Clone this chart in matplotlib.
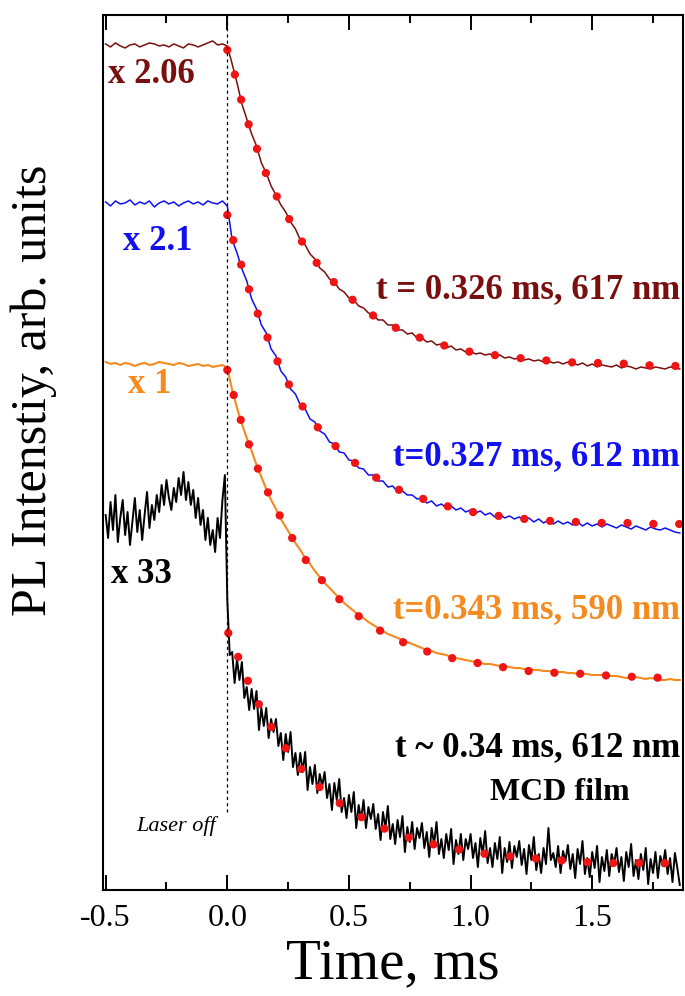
import numpy as np
import matplotlib
matplotlib.use("Agg")
import matplotlib.pyplot as plt
from matplotlib.ticker import MultipleLocator

plt.rcParams['font.family'] = ['Liberation Serif', 'DejaVu Serif']
plt.rcParams['axes.unicode_minus'] = False

# ===============================
# data, intensity in arb. units
# ===============================

STEP = 0.02      # ms, sampling of the three upper traces
STEP_BLACK = 0.01
T0 = -0.50

brown_raw = [
    846, 843, 847, 844, 842, 845, 846, 843, 845, 847, 846, 844, 845, 843, 846, 844, 842, 846, 845, 843,
    845, 847, 849, 845, 846,
    844, 826, 807, 786, 771, 756, 744, 727, 717, 704, 695, 685, 678, 668, 661, 650, 645, 636, 631, 622,
    618, 611, 608, 601, 598, 592, 590, 584, 582, 577, 575, 570, 570, 565, 565, 560, 560, 556, 557, 552,
    552, 548, 549, 545, 546, 542, 544, 540, 541, 538, 539, 536, 537, 535, 536, 533, 535, 532, 533, 531,
    532, 530, 531, 529, 530, 528, 529, 527, 528, 526, 528, 527, 525, 527, 524, 526, 523, 525, 524, 523,
    525, 522, 524, 523, 521, 523, 522, 521, 523, 522, 521, 523, 522, 521,
]

blue_raw = [
    688, 684, 689, 686, 687, 690, 685, 688, 686, 689, 683, 687, 689, 686, 688, 684, 687, 689, 686, 688,
    685, 689, 687, 686, 689,
    684, 650, 637, 621, 609, 591, 581, 565, 557, 541, 534, 519, 513, 501, 496, 485, 481, 471, 468, 459,
    456, 448, 446, 438, 437, 430, 429, 422, 421, 415, 415, 409, 409, 403, 404, 398, 399, 395, 395, 391,
    392, 387, 389, 384, 386, 382, 384, 380, 382, 378, 380, 377, 379, 375, 377, 373, 376, 372, 374, 371,
    373, 369, 372, 368, 371, 367, 370, 366, 369, 366, 368, 365, 368, 364, 367, 364, 366, 363, 366, 364,
    362, 365, 363, 361, 364, 362, 360, 363, 361, 360, 362, 360, 358, 357,
]

orange_raw = [
    528, 526, 527, 525, 527, 526, 524, 526, 527, 525, 526, 528, 527, 526, 525, 527, 526, 524, 525, 526,
    524, 525, 523, 524, 525,
    522, 500, 482, 466, 452, 439, 425, 413, 401, 390, 381, 371, 363, 355, 347, 340, 332, 326, 319, 313,
    307, 302, 297, 292, 287, 283, 279, 275, 272, 268, 265, 262, 259, 256, 254, 252, 250, 248, 246, 244,
    242, 240, 239, 237, 236, 235, 233, 232, 231, 230, 229, 228, 227, 226, 226, 225, 224, 224, 223, 222,
    222, 221, 221, 220, 220, 219, 219, 218, 218, 218, 217, 217, 216, 216, 216, 215, 215, 215, 214, 214,
    214, 213, 212, 212, 213, 212, 211, 212, 211, 210, 210, 211, 210, 210,
]

black_raw = [
    375, 352, 388, 360, 395, 348, 372, 390, 355, 378,
    345, 368, 392, 358, 380, 350, 375, 398, 362, 385,
    370, 395, 378, 405, 385, 410, 392, 380, 402, 388,
    412, 395, 418, 390, 408, 385, 400, 372, 392, 365,
    380, 350, 372, 345, 360, 338, 372, 352, 390, 415,
    290, 235, 238, 207, 231, 210, 228, 192, 203, 180,
    201, 181, 199, 160, 182, 164, 182, 152, 171, 158,
    171, 144, 157, 130, 156, 138, 158, 123, 137, 115,
    137, 118, 138, 100, 123, 106, 125, 97, 116, 104,
    118, 92, 106, 80, 107, 90, 111, 78, 92, 72,
    95, 78, 98, 62, 85, 70, 90, 62, 83, 71,
    86, 61, 76, 50, 78, 62, 84, 51, 66, 46,
    70, 53, 74, 38, 63, 48, 68, 41, 62, 52,
    67, 42, 58, 33, 62, 46, 68, 36, 51, 32,
    56, 40, 61, 26, 50, 36, 56, 30, 51, 41,
    56, 32, 47, 23, 52, 36, 59, 27, 42, 23,
    47, 31, 53, 17, 42, 28, 48, 22, 44, 33,
    49, 25, 41, 16, 45, 30, 53, 20, 36, 17,
    42, 26, 62, 30, 37, 23, 44, 17, 39, 29,
    45, 21, 36, 12, 41, 26, 49, 16, 32, 13,
    38, 22, 44, 8, 33, 19, 40, 14, 36, 26,
    42, 18, 33, 9, 38, 23, 46, 14, 30, 11,
    36, 20, 42, 6, 31, 17, 38, 12, 34, 24,
    40, 16, 32, 8, 37, 22, 5,
]

# exponential fits
brown_fit_t = [0.0, 0.016, 0.041, 0.070, 0.107, 0.144, 0.189, 0.247, 0.308, 0.382, 0.485, 0.588,
               0.694, 0.805, 0.912, 1.019, 1.130, 1.233, 1.339, 1.450, 1.557, 1.664, 1.771, 1.869]
brown_fit = [840, 831, 805, 778, 752, 725, 700, 674, 648, 622, 596, 576,
             562, 551, 543, 537, 534, 531, 529, 527, 527, 526, 524, 524]

blue_fit_t = [0.0, 0.029, 0.066, 0.099, 0.140, 0.185, 0.230, 0.296, 0.374, 0.472, 0.579, 0.686,
              0.793, 0.900, 1.007, 1.118, 1.224, 1.331, 1.438, 1.545, 1.652, 1.763, 1.861]
blue_fit = [675, 645, 619, 593, 567, 541, 515, 488, 462, 437, 417, 402,
            392, 384, 378, 374, 371, 369, 368, 367, 367, 366, 366]

orange_fit_t = [0.0, 0.025, 0.06, 0.10, 0.148, 0.201, 0.259, 0.325, 0.411, 0.50, 0.60, 0.70,
                0.80, 0.90, 1.05, 1.155, 1.266, 1.373, 1.479, 1.586, 1.693, 1.804, 1.87]
orange_fit = [520, 496, 466, 438, 407, 381, 355, 329, 303, 281, 263, 250,
              240, 233, 226, 222, 218, 217, 216, 214, 213, 212, 212]

black_fit_t = [0.004, 0.045, 0.10, 0.15, 0.20, 0.30, 0.40, 0.50, 0.60, 0.70, 0.822, 0.920,
               1.031, 1.138, 1.245, 1.352, 1.458, 1.569, 1.676, 1.779, 1.869]
black_fit = [257, 233, 200, 176, 155, 122, 98, 80, 66, 56, 47, 42,
             37, 34, 32, 30, 28, 27, 27, 27, 26]

BROWN = '#7a0f0f'
BLUE = '#1010f0'
ORANGE = '#f58a1f'
RED = '#f01414'


def time_axis(values, step):
    return T0 + step * np.arange(len(values))


fig = plt.figure(figsize=(6.85, 9.96), dpi=100)
ax = fig.add_axes([0.150, 0.1064, 0.847, 0.8786])

ax.plot(time_axis(brown_raw, STEP), brown_raw, color=BROWN, lw=1.1)
ax.plot(time_axis(blue_raw, STEP), blue_raw, color=BLUE, lw=1.1)
ax.plot(time_axis(orange_raw, STEP), orange_raw, color=ORANGE, lw=1.5)
ax.plot(time_axis(black_raw, STEP_BLACK), black_raw, color='black', lw=1.4)

dot_style = dict(color=RED, lw=6, ls=(0, (0.001, 3.1)), dash_capstyle='round')
for ft, fv in [(brown_fit_t, brown_fit), (blue_fit_t, blue_fit),
               (orange_fit_t, orange_fit), (black_fit_t, black_fit)]:
    ax.plot(ft, fv, **dot_style)

ax.vlines(0.0, 78, 875, colors='black', linestyles=(0, (2.5, 2.5)), lw=0.9)

ax.set_xlim(-0.512, 1.873)
ax.set_ylim(0, 875)

bold = dict(fontsize=25, fontweight='bold')
ax.text(-0.49, 815, 'x 2.06', color=BROWN, ha='left', va='center', **bold)
ax.text(-0.43, 648, 'x 2.1', color=BLUE, ha='left', va='center', **bold)
ax.text(-0.407, 505, 'x 1', color=ORANGE, ha='left', va='center', **bold)
ax.text(-0.48, 315, 'x 33', color='black', ha='left', va='center', **bold)

ax.text(1.861, 600, 't = 0.326 ms, 617 nm', color=BROWN, ha='right', va='center', **bold)
ax.text(1.861, 433, 't=0.327 ms, 612 nm', color=BLUE, ha='right', va='center', **bold)
ax.text(1.861, 280, 't=0.343 ms, 590 nm', color=ORANGE, ha='right', va='center', **bold)
ax.text(1.861, 142, 't ~ 0.34 ms, 612 nm', color='black', ha='right', va='center', **bold)
ax.text(1.368, 98, 'MCD film', color='black', ha='center', va='center',
        fontsize=23, fontweight='bold')
ax.text(-0.21, 64, 'Laser off', color='black', ha='center', va='center',
        fontsize=16, fontstyle='italic')

ax.xaxis.set_major_locator(MultipleLocator(0.5))
ax.xaxis.set_minor_locator(MultipleLocator(0.25))
ax.tick_params(axis='x', which='both', direction='in', top=True, bottom=True,
               labelsize=23, width=1.4, pad=10)
ax.tick_params(axis='x', which='major', length=11)
ax.tick_params(axis='x', which='minor', length=6)
ax.set_yticks([])
for s in ax.spines.values():
    s.set_linewidth(1.5)

ax.set_xlabel('Time, ms', fontsize=41, labelpad=4)
ax.set_ylabel('PL Intenstiy, arb. units', fontsize=36)
ax.yaxis.set_label_coords(-0.078, 0.571)

fig.savefig('out.png', dpi=100)
